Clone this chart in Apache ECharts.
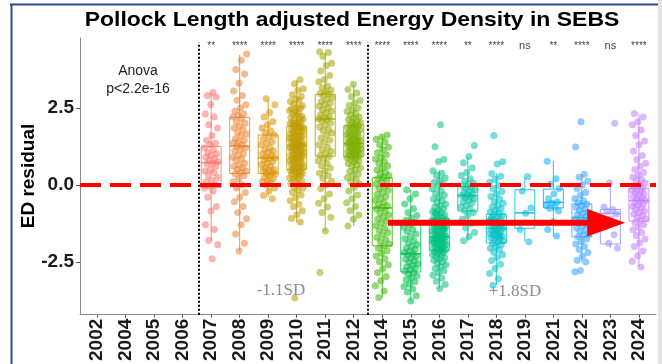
<!DOCTYPE html>
<html>
<head>
<meta charset="utf-8">
<script src="https://cdn.jsdelivr.net/npm/echarts@6/dist/echarts.min.js"></script>
<style>html,body{margin:0;padding:0;background:#fff}#c{width:662px;height:364px}</style>
</head>
<body>
<div id="c"></div>
<script>
// ---------------- data ----------------
const categories = ['2002','2004','2005','2006','2007','2008','2009','2010','2011','2012','2014','2015','2016','2017','2018','2019','2021','2022','2023','2024'];
const dataYears = ['2007','2008','2009','2010','2011','2012','2014','2015','2016','2017','2018','2019','2021','2022','2023','2024'];
const yearColors = ['#F8766D','#EA8331','#D89000','#C09B00','#A3A500','#7CAE00','#39B600','#00BB4E','#00BF7D','#00C1A3','#00BFC4','#00BAE0','#00B0F6','#35A2FF','#9590FF','#C77CFF'];
const sigLabels = ['**','****','****','****','****','****','****','****','****','**','****','ns','**','****','ns','****'];
const yTicks = [-2.5, 0, 2.5];

// box statistics (whisker low, Q1, median, Q3, whisker high)
const boxMin = [-1.82,-2.14,-0.40,-1.22,-1.50,-1.34,-3.66,-3.77,-3.37,-1.82,-3.26,-1.85,-1.66,-2.51,-2.06,-2.67];
const boxQ1  = [-0.09, 0.37, 0.37, 0.50, 0.93, 0.91,-1.98,-2.83,-2.14,-0.85,-1.89,-1.41,-0.75,-1.69,-1.92,-1.18];
const boxMed = [ 0.72, 1.26, 0.88, 1.28, 2.14, 1.34,-0.75,-2.24,-1.69,-0.35,-1.42,-0.91,-0.57,-1.07,-0.93,-0.51];
const boxQ3  = [ 1.25, 2.19, 1.62, 1.90, 2.94, 1.92, 0.23,-1.28,-1.10,-0.05,-0.96,-0.16,-0.14,-0.62,-0.80,-0.11];
const boxMax = [ 2.99, 4.22, 2.78, 3.40, 4.30, 3.26, 1.60,-0.16, 0.46, 0.91, 0.37, 0.25, 0.77, 0.34, 0.07, 2.30];

// individual residuals per year
const p2007 = [3.0,2.9,2.85,2.6,2.3,2.2,1.95,1.85,1.6,1.45,1.35,1.3,1.2,1.15,1.05,1.0,0.95,0.9,0.85,0.8,0.75,0.7,0.68,0.6,0.5,0.45,0.4,0.3,0.25,0.15,0.1,0.0,-0.05,-0.1,-0.2,-0.4,-0.7,-0.85,-1.3,-1.45,-1.8,-1.95,-2.4];
const p2008 = [4.25,4.05,3.75,3.6,3.3,3.05,2.9,2.75,2.6,2.5,2.4,2.3,2.25,2.2,2.15,2.05,2.0,1.9,1.85,1.8,1.7,1.65,1.6,1.5,1.45,1.4,1.35,1.3,1.25,1.2,1.15,1.1,1.0,0.95,0.9,0.85,0.8,0.7,0.65,0.6,0.55,0.5,0.45,0.4,0.35,0.3,0.2,0.1,0.0,-0.1,-0.25,-0.4,-0.55,-0.7,-0.9,-1.1,-1.3,-1.6,-1.9,-2.15];
const p2009 = [2.8,2.6,2.35,2.2,2.05,1.95,1.85,1.75,1.7,1.62,1.55,1.5,1.4,1.35,1.3,1.2,1.15,1.1,1.05,1.0,0.95,0.9,0.88,0.85,0.8,0.75,0.7,0.65,0.6,0.55,0.5,0.48,0.45,0.4,0.38,0.35,0.3,0.25,0.2,0.15,0.1,0.05,0.0,-0.1,-0.2,-0.35,-0.45];
const p2010 = [3.41,3.28,3.12,3.07,2.93,2.88,2.79,2.71,2.74,2.62,2.57,2.51,2.46,2.49,2.38,2.41,2.33,2.29,2.24,2.27,2.19,2.16,2.11,2.13,2.06,2.02,2.04,1.97,1.99,1.93,1.91,1.88,1.86,1.83,1.85,1.79,1.77,1.74,1.71,1.73,1.68,1.66,1.62,1.64,1.59,1.57,1.53,1.55,1.49,1.51,1.46,1.44,1.41,1.38,1.4,1.35,1.33,1.31,1.29,1.27,1.26,1.24,1.21,1.23,1.18,1.16,1.13,1.15,1.09,1.11,1.06,1.04,1.01,0.98,1.0,0.95,0.93,0.9,0.92,0.87,0.85,0.81,0.83,0.78,0.76,0.73,0.71,0.68,0.66,0.63,0.61,0.58,0.56,0.53,0.51,0.49,0.46,0.42,0.44,0.38,0.34,0.36,0.31,0.27,0.22,0.24,0.18,0.13,0.09,0.04,0.01,-0.06,-0.11,-0.18,-0.24,-0.33,-0.41,-0.52,-0.63,-0.71,-0.84,-0.97,-1.09,-1.21,-3.68];
const p2011 = [4.32,4.3,4.18,3.95,3.88,3.7,3.55,3.42,3.35,3.21,3.15,3.08,3.02,2.97,2.95,2.9,2.84,2.78,2.71,2.66,2.62,2.55,2.5,2.44,2.4,2.33,2.28,2.22,2.18,2.15,2.12,2.07,2.01,1.95,1.88,1.8,1.76,1.68,1.6,1.52,1.45,1.38,1.3,1.22,1.15,1.08,1.02,0.96,0.92,0.85,0.78,0.7,0.62,0.55,0.45,0.38,0.3,0.21,0.12,0.0,-0.12,-0.3,-0.45,-0.6,-0.72,-0.9,-1.05,-1.5,-2.85];
const p2012 = [3.27,3.1,2.98,2.87,2.74,2.66,2.58,2.5,2.43,2.38,2.31,2.26,2.2,2.17,2.12,2.08,2.04,2.01,1.97,1.94,1.92,1.89,1.86,1.83,1.8,1.78,1.75,1.72,1.69,1.66,1.64,1.61,1.58,1.56,1.53,1.51,1.48,1.46,1.44,1.42,1.39,1.37,1.35,1.34,1.32,1.3,1.28,1.26,1.24,1.21,1.19,1.17,1.15,1.13,1.11,1.09,1.07,1.04,1.02,1.0,0.98,0.95,0.93,0.91,0.88,0.85,0.82,0.78,0.74,0.69,0.65,0.6,0.55,0.49,0.43,0.36,0.3,0.24,0.17,0.1,0.02,-0.08,-0.2,-0.33,-0.45,-0.58,-0.7,-0.84,-0.98,-1.12,-1.34];
const p2014 = [1.62,1.55,1.48,1.4,1.3,1.22,1.15,1.05,0.98,0.9,0.84,0.76,0.7,0.62,0.55,0.48,0.41,0.35,0.3,0.24,0.2,0.14,0.08,0.02,-0.05,-0.12,-0.18,-0.25,-0.31,-0.38,-0.44,-0.5,-0.57,-0.63,-0.68,-0.74,-0.78,-0.85,-0.92,-0.98,-1.05,-1.12,-1.18,-1.26,-1.33,-1.4,-1.48,-1.55,-1.62,-1.7,-1.78,-1.85,-1.92,-1.99,-2.06,-2.14,-2.22,-2.31,-2.4,-2.5,-2.6,-2.72,-2.85,-2.98,-3.12,-3.28,-3.45,-3.66];
const p2015 = [-0.16,-0.3,-0.45,-0.62,-0.78,-0.9,-1.0,-1.08,-1.15,-1.22,-1.3,-1.38,-1.45,-1.52,-1.6,-1.68,-1.75,-1.82,-1.88,-1.94,-2.0,-2.05,-2.1,-2.15,-2.2,-2.24,-2.28,-2.33,-2.38,-2.42,-2.47,-2.52,-2.56,-2.61,-2.66,-2.7,-2.75,-2.8,-2.85,-2.9,-2.96,-3.02,-3.08,-3.15,-3.22,-3.3,-3.38,-3.48,-3.6,-3.77];
const p2016 = [1.95,1.24,0.82,0.76,0.46,0.38,0.31,0.22,0.16,0.08,0.02,-0.05,-0.13,-0.2,-0.27,-0.33,-0.41,-0.46,-0.52,-0.58,-0.63,-0.69,-0.73,-0.78,-0.83,-0.87,-0.91,-0.95,-0.99,-1.02,-1.05,-1.08,-1.11,-1.14,-1.17,-1.2,-1.23,-1.26,-1.29,-1.32,-1.35,-1.37,-1.4,-1.42,-1.45,-1.47,-1.5,-1.52,-1.54,-1.57,-1.59,-1.61,-1.63,-1.66,-1.68,-1.7,-1.72,-1.74,-1.76,-1.78,-1.8,-1.82,-1.84,-1.86,-1.88,-1.9,-1.92,-1.94,-1.96,-1.98,-2.0,-2.02,-2.05,-2.07,-2.1,-2.12,-2.14,-2.17,-2.2,-2.23,-2.26,-2.29,-2.33,-2.37,-2.41,-2.45,-2.5,-2.55,-2.6,-2.66,-2.72,-2.79,-2.86,-2.94,-3.03,-3.13,-3.24,-3.37,-1.15,-1.38,-1.62,-1.85,-2.08,-0.9,-1.44,-1.71];
const p2017 = [1.28,0.92,0.72,0.55,0.4,0.3,0.2,0.12,0.05,0.0,-0.04,-0.08,-0.12,-0.16,-0.2,-0.24,-0.28,-0.32,-0.35,-0.38,-0.42,-0.46,-0.5,-0.55,-0.6,-0.66,-0.72,-0.78,-0.84,-0.9,-1.0,-1.12,-1.25,-1.4,-1.55,-1.68,-1.82];
const p2018 = [1.6,0.75,0.68,0.37,0.28,0.18,0.08,-0.02,-0.12,-0.22,-0.3,-0.38,-0.46,-0.54,-0.6,-0.66,-0.72,-0.78,-0.83,-0.88,-0.92,-0.96,-1.0,-1.04,-1.08,-1.11,-1.14,-1.18,-1.21,-1.24,-1.27,-1.3,-1.33,-1.36,-1.39,-1.42,-1.45,-1.48,-1.51,-1.54,-1.57,-1.6,-1.63,-1.66,-1.69,-1.72,-1.75,-1.78,-1.82,-1.86,-1.9,-1.95,-2.0,-2.06,-2.12,-2.19,-2.27,-2.36,-2.46,-2.58,-2.72,-2.88,-3.05,-3.26,-1.25,-1.47,-1.12,-1.68];
const p2019 = [0.27,-0.2,-0.75,-0.92,-1.45,-1.85];
const p2021 = [0.77,0.2,0.02,-0.12,-0.3,-0.45,-0.55,-0.6,-0.66,-0.72,-0.76,-0.85,-1.2,-1.45,-1.66];
const p2022 = [2.05,1.23,0.34,0.25,0.12,0.0,-0.12,-0.25,-0.35,-0.45,-0.52,-0.58,-0.63,-0.68,-0.73,-0.78,-0.83,-0.88,-0.92,-0.97,-1.02,-1.07,-1.12,-1.17,-1.22,-1.28,-1.34,-1.4,-1.46,-1.52,-1.58,-1.63,-1.69,-1.76,-1.84,-1.92,-2.0,-2.1,-2.2,-2.32,-2.45,-2.51,-2.78,-2.82];
const p2023 = [2.0,0.06,-0.72,-0.8,-0.86,-0.95,-1.1,-1.35,-1.62,-1.9,-2.06];
const p2024 = [2.32,2.2,2.05,1.95,1.78,1.6,1.42,1.3,1.1,0.95,0.82,0.7,0.6,0.5,0.4,0.32,0.25,0.18,0.12,0.06,0.0,-0.05,-0.1,-0.14,-0.18,-0.22,-0.26,-0.3,-0.34,-0.38,-0.42,-0.46,-0.5,-0.54,-0.58,-0.62,-0.66,-0.7,-0.75,-0.8,-0.85,-0.9,-0.95,-1.0,-1.05,-1.1,-1.16,-1.22,-1.3,-1.38,-1.46,-1.55,-1.65,-1.76,-1.88,-2.0,-2.15,-2.3,-2.48,-2.67];
const pointsByYear = [p2007,p2008,p2009,p2010,p2011,p2012,p2014,p2015,p2016,p2017,p2018,p2019,p2021,p2022,p2023,p2024];

// annotation arrow (start category position, tip category position, level)
const arrowSpec = [10.2, 18.52, -1.23];
const phaseLines = [3.57, 9.5];

// ---------------- build ----------------
const catIndex = y => categories.indexOf(y);
const boxData = dataYears.map((y, i) => [catIndex(y), boxMin[i], boxQ1[i], boxMed[i], boxQ3[i], boxMax[i]]);
const pointData = [];
pointsByYear.forEach((arr, i) => {
  const cx = catIndex(dataYears[i]);
  arr.forEach((v, k) => {
    const f = ((k + 1) * 0.6180339887 + i * 0.371) % 1;
    pointData.push({ value: [cx + (f - 0.5) * 0.5, v], itemStyle: { color: yearColors[i] } });
  });
});
const sigData = dataYears.map((y, i) => [catIndex(y), 4.5, i]);
const idxTicks = categories.map((c, i) => i);
const YMIN = -4.22, YMAX = 4.77;
const FONT = '"Liberation Sans", Arial, sans-serif';

const chart = echarts.init(document.getElementById('c'));
chart.setOption({
  animation: false,
  backgroundColor: '#ffffff',
  grid: { left: 80, right: 6, top: 38, bottom: 49 },
  xAxis: {
    type: 'value', min: -0.6, max: 19.6,
    axisLine: { show: true, onZero: false, lineStyle: { color: '#8a8a8a', width: 1 } },
    axisTick: { show: true, customValues: idxTicks, length: 3, lineStyle: { color: '#555' } },
    axisLabel: { customValues: idxTicks, rotate: 90, margin: 4, formatter: v => categories[Math.round(v)],
                 fontFamily: FONT, fontWeight: 'bold', fontSize: 19, color: '#1a1a1a' },
    splitLine: { show: false }
  },
  yAxis: {
    type: 'value', min: YMIN, max: YMAX,
    axisLine: { show: true, onZero: false, lineStyle: { color: '#8a8a8a', width: 1 } },
    axisTick: { show: true, customValues: yTicks, length: 4, lineStyle: { color: '#555' } },
    axisLabel: { customValues: yTicks, margin: 6, formatter: v => v.toFixed(1),
                 fontFamily: FONT, fontWeight: 'bold', fontSize: 19, color: '#1a1a1a' },
    splitLine: { show: false }
  },
  series: [
    {
      type: 'custom', name: 'box', z: 2,
      data: boxData,
      encode: { x: 0, y: [1, 2, 3, 4, 5] },
      renderItem: function (params, api) {
        const x = api.value(0);
        const lo = api.coord([x, api.value(1)]);
        const q1 = api.coord([x, api.value(2)]);
        const md = api.coord([x, api.value(3)]);
        const q3 = api.coord([x, api.value(4)]);
        const hi = api.coord([x, api.value(5)]);
        const hw = api.size([0.7, 0])[0] / 2;
        const col = echarts.color.modifyAlpha(yearColors[params.dataIndex], 0.85);
        const st = { stroke: col, lineWidth: 1, fill: null };
        return { type: 'group', children: [
          { type: 'line', shape: { x1: md[0], y1: hi[1], x2: md[0], y2: q3[1] }, style: st },
          { type: 'line', shape: { x1: md[0], y1: q1[1], x2: md[0], y2: lo[1] }, style: st },
          { type: 'rect', shape: { x: md[0] - hw, y: q3[1], width: 2 * hw, height: q1[1] - q3[1] }, style: { stroke: col, lineWidth: 1, fill: 'rgba(255,255,255,0)' } },
          { type: 'line', shape: { x1: md[0] - hw, y1: md[1], x2: md[0] + hw, y2: md[1] }, style: { stroke: col, lineWidth: 1.6 } }
        ]};
      }
    },
    {
      type: 'scatter', name: 'points', z: 3,
      symbolSize: 7,
      itemStyle: { opacity: 0.55 },
      data: pointData,
      markLine: {
        silent: true, symbol: 'none', label: { show: false },
        data: [
          [{ coord: [phaseLines[0], YMIN], lineStyle: { color: '#000', width: 2, type: [2, 2] } }, { coord: [phaseLines[0], 4.62] }],
          [{ coord: [phaseLines[1], YMIN], lineStyle: { color: '#000', width: 2, type: [2, 2] } }, { coord: [phaseLines[1], 4.62] }],
          { yAxis: 0, lineStyle: { color: '#ff0000', width: 4, type: [21, 9] } }
        ]
      }
    },
    {
      type: 'custom', name: 'sig', z: 4,
      data: sigData,
      renderItem: function (params, api) {
        const p = api.coord([api.value(0), api.value(1)]);
        const t = sigLabels[api.value(2)];
        return { type: 'text', x: p[0], y: p[1], style: {
          text: t, fill: '#444', align: 'center', verticalAlign: 'middle',
          font: (t === 'ns' ? '11px ' : '10px ') + FONT } };
      }
    },
    {
      type: 'custom', name: 'arrow', z: 10,
      data: [arrowSpec],
      renderItem: function (params, api) {
        const a = api.coord([api.value(0), api.value(2)]);
        const b = api.coord([api.value(1), api.value(2)]);
        const headL = 38, headH = 13.7, shaft = 3;
        const bx = b[0] - headL;
        return { type: 'polygon', shape: { points: [
          [a[0], a[1] - shaft], [bx, a[1] - shaft], [bx, a[1] - headH], [b[0], a[1]],
          [bx, a[1] + headH], [bx, a[1] + shaft], [a[0], a[1] + shaft]
        ] }, style: { fill: '#ff0000' } };
      }
    }
  ],
  graphic: [
    { type: 'line', shape: { x1: 10, y1: 4.5, x2: 658, y2: 4.5 }, style: { stroke: '#2c4f86', lineWidth: 2 } },
    { type: 'line', shape: { x1: 11.5, y1: 4, x2: 11.5, y2: 364 }, style: { stroke: '#2c4f86', lineWidth: 2 } },
    { type: 'rect', shape: { x: 658, y: 0, width: 4, height: 364 }, style: { fill: '#e4e4e4' } },
    { type: 'text', x: 352, y: 20.5, scaleX: 1.12, style: { text: 'Pollock Length adjusted Energy Density in SEBS', font: 'bold 20.5px ' + FONT, fill: '#000', align: 'center', verticalAlign: 'middle' } },
    { type: 'text', x: 29, y: 176, rotation: Math.PI / 2, style: { text: 'ED residual', font: 'bold 19px ' + FONT, fill: '#000', align: 'center', verticalAlign: 'middle' } },
    { type: 'text', x: 138, y: 71, style: { text: 'Anova', font: '14px ' + FONT, fill: '#222', align: 'center', verticalAlign: 'middle' } },
    { type: 'text', x: 138, y: 89, style: { text: 'p<2.2e-16', font: '14px ' + FONT, fill: '#222', align: 'center', verticalAlign: 'middle' } },
    { type: 'text', x: 281, y: 291, style: { text: '-1.1SD', font: '17px "Liberation Serif", serif', fill: '#8c8c8c', align: 'center', verticalAlign: 'middle' } },
    { type: 'text', x: 515, y: 292, style: { text: '+1.8SD', font: '17px "Liberation Serif", serif', fill: '#8c8c8c', align: 'center', verticalAlign: 'middle' } }
  ]
});
</script>
</body>
</html>
